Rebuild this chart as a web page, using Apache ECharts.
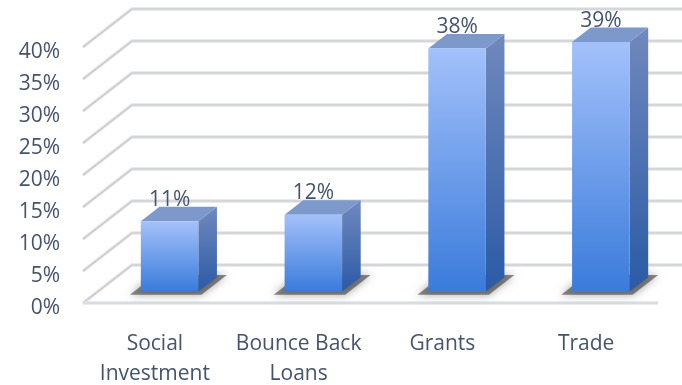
<!DOCTYPE html>
<html><head><meta charset="utf-8">
<script src="https://cdn.jsdelivr.net/npm/echarts@6/dist/echarts.min.js"></script>
<style>html,body{margin:0;padding:0;background:#fff}#c{width:682px;height:385px}</style>
</head><body><div id="c"></div>
<script>
const categories = ['Social\nInvestment', 'Bounce Back\nLoans', 'Grants', 'Trade'];
const values = [11, 12, 38, 39];
const yTicks = [0, 5, 10, 15, 20, 25, 30, 35, 40];

const DX = 49, DY = -38;          // oblique depth offset of the back wall
const Z0 = 0.3, Z1 = 0.68, BW = 0.4;
const FONT = 'Open Sans';
const TEXT = '#44546a';

function proj(p, z) { return [p[0] + DX * z, p[1] + DY * z]; }

const chart = echarts.init(document.getElementById('c'), null, { renderer: 'canvas' });

function renderGrid(params, api) {
  const cs = params.coordSys;
  const v = api.value(0);
  const y = api.coord([0, v])[1];
  const f = [cs.x, y];
  const b = proj(f, 1);
  const br = [cs.x + cs.width + DX, b[1]];
  const pts = [f, b, br];
  const children = [
    { type: 'polyline', shape: { points: pts }, style: { stroke: '#e3e4e7', lineWidth: 3.4, fill: null } },
    { type: 'polyline', shape: { points: pts }, style: { stroke: '#c6c8ce', lineWidth: 1.2, fill: null } }
  ];
  if (v === 0) {
    const fr = [cs.x + cs.width, y];
    children.push({ type: 'line', shape: { x1: f[0], y1: y, x2: fr[0], y2: y }, style: { stroke: '#e3e4e7', lineWidth: 3.4 } });
    children.push({ type: 'line', shape: { x1: f[0], y1: y, x2: fr[0], y2: y }, style: { stroke: '#d2d4d8', lineWidth: 1.2 } });
  }
  return { type: 'group', children };
}

function renderBar(params, api) {
  const i = api.value(0), v = api.value(1);
  const c0 = api.coord([i, 0]), c1 = api.coord([i, v]);
  const band = api.size([1, 0])[0];
  const w = band * BW;
  const xl = c0[0] - w / 2, xr = c0[0] + w / 2;
  const yb = c0[1], yt = c1[1];
  const fbl = proj([xl, yb], Z0), fbr = proj([xr, yb], Z0);
  const ftl = proj([xl, yt], Z0), ftr = proj([xr, yt], Z0);
  const bbr = proj([xr, yb], Z1), btl = proj([xl, yt], Z1), btr = proj([xr, yt], Z1);
  const e = 7;
  const s1 = proj([xl - e, yb], Z0 - 0.08), s2 = proj([xr + e, yb], Z0 - 0.08);
  const s3 = proj([xr + e, yb], Z1 + 0.06), s4 = proj([xl - e, yb], Z1 + 0.06);
  return {
    type: 'group',
    children: [
      { type: 'polygon', shape: { points: [s1, s2, s3, s4] },
        style: { fill: 'rgba(60,60,60,0.6)', shadowBlur: 8, shadowColor: 'rgba(0,0,0,0.6)' } },
      { type: 'polygon', shape: { points: [fbr, bbr, btr, ftr] },
        style: { fill: { type: 'linear', x: 0, y: 0, x2: 0, y2: 1,
          colorStops: [{ offset: 0, color: '#7189bd' }, { offset: 1, color: '#2b5aa6' }] } } },
      { type: 'polygon', shape: { points: [ftl, ftr, btr, btl] }, style: { fill: '#7d98ca' } },
      { type: 'polygon', shape: { points: [fbl, fbr, ftr, ftl] },
        style: { fill: { type: 'linear', x: 0, y: 0, x2: 0, y2: 1,
          colorStops: [{ offset: 0, color: '#a3c1fa' }, { offset: 1, color: '#3a7bdb' }] } } },
      { type: 'text', style: { text: v + '%', x: (ftl[0] + ftr[0]) / 2, y: btl[1] - 7,
          align: 'center', verticalAlign: 'middle', fill: TEXT,
          fontFamily: FONT, fontSize: 21 } }
    ]
  };
}

chart.setOption({
  animation: false,
  grid: { left: 83, right: 24, top: 47, bottom: 82, containLabel: false, outerBoundsMode: 'none' },
  xAxis: {
    type: 'category', data: categories,
    axisLine: { show: false }, axisTick: { show: false },
    axisLabel: { color: TEXT, fontFamily: FONT, fontSize: 21, lineHeight: 30, margin: 26, interval: 0 }
  },
  yAxis: {
    type: 'value', min: 0, max: 40, interval: 5,
    axisLine: { show: false }, axisTick: { show: false }, splitLine: { show: false },
    axisLabel: {
      formatter: '{a|{value}%}', margin: 23,
      rich: { a: { color: TEXT, fontFamily: FONT, fontSize: 21, padding: [11, 0, 0, 0] } }
    }
  },
  series: [
    { type: 'custom', renderItem: renderGrid, data: yTicks.map(v => [v]), z: 1, silent: true, clip: false },
    { type: 'custom', renderItem: renderBar, data: values.map((v, i) => [i, v]), z: 3, clip: false }
  ]
});
</script></body></html>
